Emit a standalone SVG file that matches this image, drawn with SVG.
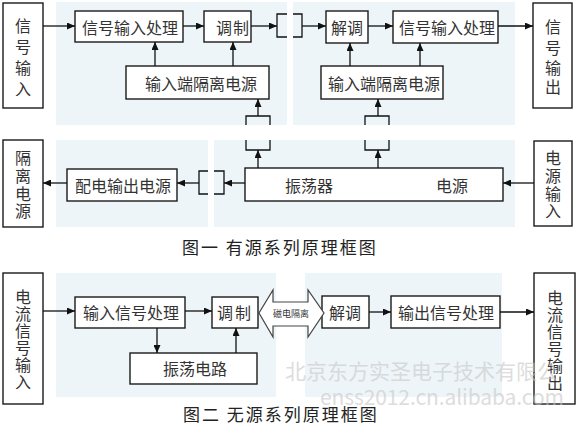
<svg xmlns="http://www.w3.org/2000/svg" width="584" height="424" viewBox="0 0 584 424">
<defs>
<marker id="ah" viewBox="0 0 8 7" refX="8" refY="3.5" markerWidth="8" markerHeight="7" markerUnits="userSpaceOnUse" orient="auto"><path d="M0,0 L8,3.5 L0,7 z" fill="#111"/></marker>
<style>
.panel{fill:#eef5f8}
.box{fill:#fff;stroke:#1a1a1a;stroke-width:1.4}
.t{font-family:"Noto Sans CJK SC","Noto Sans",sans-serif;font-size:16px;fill:#333;text-anchor:middle;dominant-baseline:central}
.vt{font-family:"Noto Sans CJK SC","Noto Sans",sans-serif;font-size:16px;fill:#333;text-anchor:middle;dominant-baseline:central}
.title{font-family:"Noto Sans CJK SC","Noto Sans",sans-serif;font-size:17px;fill:#222;dominant-baseline:central;letter-spacing:2px}
.ln{stroke:#111;stroke-width:1.3;fill:none}
.ar{stroke:#111;stroke-width:1.3;fill:none;marker-end:url(#ah)}
.wm{font-family:"Noto Sans CJK SC","Liberation Sans",sans-serif;fill:#c8c8c8;opacity:0.6}
</style>
</defs>
<rect width="584" height="424" fill="#fff"/>
<g id="panels">
<rect class="panel" x="56" y="2" width="231" height="123"/>
<rect class="panel" x="293" y="2" width="222" height="123"/>
<rect class="panel" x="56" y="140" width="152" height="87"/>
<rect class="panel" x="214" y="140" width="301" height="87"/>
<rect class="panel" x="56" y="273" width="220" height="124"/>
<rect class="panel" x="305" y="273" width="197" height="124"/>
</g>
<g id="n_sig_in"><rect class="box" x="3" y="3" width="40" height="105"/><text class="vt"><tspan x="23" y="25">信</tspan><tspan x="23" y="46">号</tspan><tspan x="23" y="67">输</tspan><tspan x="23" y="88">入</tspan></text></g>
<g id="n_proc1"><rect class="box" x="75" y="11" width="108" height="31"/><text class="t" x="130" y="27">信号输入处理</text></g>
<g id="n_mod1"><rect class="box" x="204" y="11" width="47" height="31"/><text class="t" x="233" y="27" letter-spacing="1">调制</text></g>
<g id="n_iso1"><rect class="box" x="126" y="66" width="143" height="33"/><text class="t" x="201" y="83">输入端隔离电源</text></g>
<g id="n_demod1"><rect class="box" x="326" y="11" width="42" height="32"/><text class="t" x="347" y="27">解调</text></g>
<g id="n_proc2"><rect class="box" x="393" y="11" width="105" height="32"/><text class="t" x="447" y="27">信号输入处理</text></g>
<g id="n_iso2"><rect class="box" x="321" y="66" width="122" height="33"/><text class="t" x="384" y="83">输入端隔离电源</text></g>
<g id="n_sig_out"><rect class="box" x="533" y="3" width="39" height="105"/><text class="vt"><tspan x="553" y="26">信</tspan><tspan x="553" y="47">号</tspan><tspan x="553" y="67">输</tspan><tspan x="553" y="86">出</tspan></text></g>
<g id="n_isopwr"><rect class="box" x="3" y="140" width="40" height="87"/><text class="vt"><tspan x="23" y="157">隔</tspan><tspan x="23" y="175">离</tspan><tspan x="23" y="193">电</tspan><tspan x="23" y="210">源</tspan></text></g>
<g id="n_distpwr"><rect class="box" x="67" y="169" width="110" height="32"/><text class="t" x="123" y="185">配电输出电源</text></g>
<g id="n_osc"><rect class="box" x="245" y="168" width="258" height="33"/><text class="t" x="309" y="185">振荡器</text><text class="t" x="452" y="185">电源</text></g>
<g id="n_pwr_in"><rect class="box" x="534" y="141" width="38" height="85"/><text class="vt"><tspan x="553" y="157">电</tspan><tspan x="553" y="175">源</tspan><tspan x="553" y="193">输</tspan><tspan x="553" y="210">入</tspan></text></g>
<g id="title1"><text class="title" x="182" y="246">图一 有源系列原理框图</text></g>
<g id="n_cur_in"><rect class="box" x="3" y="273" width="40" height="131"/><text class="vt"><tspan x="23" y="296">电</tspan><tspan x="23" y="313">流</tspan><tspan x="23" y="330">信</tspan><tspan x="23" y="347">号</tspan><tspan x="23" y="364">输</tspan><tspan x="23" y="381">入</tspan></text></g>
<g id="n_inproc"><rect class="box" x="75" y="297" width="110" height="31"/><text class="t" x="131" y="312">输入信号处理</text></g>
<g id="n_mod2"><rect class="box" x="212" y="297" width="46" height="31"/><text class="t" x="235" y="312" letter-spacing="2">调制</text></g>
<g id="n_oscc"><rect class="box" x="130" y="353" width="127" height="31"/><text class="t" x="195" y="368">振荡电路</text></g>
<g id="n_demod2"><rect class="box" x="322" y="296" width="47" height="32"/><text class="t" x="345" y="312">解调</text></g>
<g id="n_outproc"><rect class="box" x="391" y="296" width="109" height="32"/><text class="t" x="446" y="312">输出信号处理</text></g>
<g id="n_cur_out"><rect class="box" x="534" y="273" width="41" height="131"/><text class="vt"><tspan x="555" y="297">电</tspan><tspan x="555" y="314">流</tspan><tspan x="555" y="331">信</tspan><tspan x="555" y="348">号</tspan><tspan x="555" y="365">输</tspan><tspan x="555" y="382">出</tspan></text></g>
<g id="n_magiso"><polygon points="259,313 273,290 273,302 308,302 308,290 324,313 308,337 308,326 273,326 273,337" fill="#fff" stroke="#444" stroke-width="1.2"/><text x="291" y="313" font-family="Noto Sans CJK SC, sans-serif" font-size="9" fill="#333" text-anchor="middle" dominant-baseline="central">磁电隔离</text></g>
<g id="title2"><text class="title" x="183" y="413">图二 无源系列原理框图</text></g>
<g id="connectors">
<line class="ar" x1="43" y1="26" x2="75" y2="26"/>
<line class="ar" x1="183" y1="26" x2="204" y2="26"/>
<line class="ar" x1="251" y1="26" x2="277" y2="26"/>
<path class="ln" d="M287,14 H277 V37 H287"/>
<path class="ln" d="M293,14 H302 V37 H293"/>
<line class="ar" x1="302" y1="26" x2="326" y2="26"/>
<line class="ar" x1="368" y1="26" x2="393" y2="26"/>
<line class="ar" x1="498" y1="26" x2="533" y2="26"/>
<line class="ar" x1="155" y1="66" x2="155" y2="42"/>
<line class="ar" x1="233" y1="66" x2="233" y2="42"/>
<line class="ar" x1="350" y1="66" x2="350" y2="43"/>
<line class="ar" x1="420" y1="66" x2="420" y2="43"/>
<path class="ln" d="M246,125 V116 H270 V125"/>
<path class="ln" d="M246,140 V150 H270 V140"/>
<path class="ln" d="M365,125 V116 H389 V125"/>
<path class="ln" d="M365,140 V150 H389 V140"/>
<line class="ar" x1="258" y1="116" x2="258" y2="99"/>
<line class="ar" x1="378" y1="116" x2="378" y2="99"/>
<line class="ar" x1="258" y1="168" x2="258" y2="150"/>
<line class="ar" x1="378" y1="168" x2="378" y2="150"/>
<line class="ar" x1="245" y1="183" x2="224" y2="183"/>
<path class="ln" d="M208,171 H199 V194 H208"/>
<path class="ln" d="M214,171 H224 V194 H214"/>
<line class="ar" x1="199" y1="183" x2="177" y2="183"/>
<line class="ar" x1="67" y1="183" x2="43" y2="183"/>
<line class="ar" x1="534" y1="183" x2="503" y2="183"/>
<line class="ar" x1="43" y1="311" x2="75" y2="311"/>
<line class="ar" x1="185" y1="311" x2="212" y2="311"/>
<line class="ar" x1="157" y1="328" x2="157" y2="353"/>
<line class="ar" x1="236" y1="353" x2="236" y2="328"/>
<line class="ar" x1="369" y1="312" x2="391" y2="312"/>
<line class="ar" x1="500" y1="312" x2="534" y2="312"/>
</g>
<g id="watermark">
<text class="wm" x="285" y="370" font-size="21" dominant-baseline="central">北京东方实圣电子技术有限公</text>
<text class="wm" x="320" y="396" font-size="21" dominant-baseline="central" textLength="244">enss2012.cn.alibaba.com</text>
</g>
</svg>
